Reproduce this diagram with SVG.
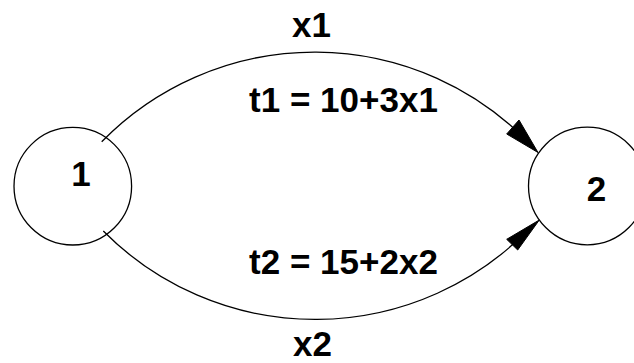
<svg xmlns="http://www.w3.org/2000/svg" width="634" height="363" viewBox="0 0 634 363">
<style>
.node{fill:#fff;stroke:#000;stroke-width:1.3}
.edge{fill:none;stroke:#000;stroke-width:1.3}
.head{fill:#000;stroke:#000;stroke-width:1}
text{font-family:"Liberation Sans",Arial,sans-serif;font-weight:bold;font-size:35px;fill:#000}
</style>
<rect width="634" height="363" fill="#fff"/>
<g id="node1">
<circle class="node" cx="72.8" cy="186.2" r="58.8"/>
<text x="81" y="186" text-anchor="middle" font-size="34">1</text>
</g>
<g id="node2">
<circle class="node" cx="587.3" cy="186" r="58.8"/>
<text x="596.5" y="201" text-anchor="middle" font-size="34">2</text>
</g>
<g id="connectors">
<path class="edge" d="M101.7,141.7 A298,298 0 0,1 530,144"/>
<polygon class="head" points="538,152.5 506.7,134 519,120"/>
<path class="edge" d="M103.3,231 A298,298 0 0,0 530,228"/>
<polygon class="head" points="539.3,220 506.7,239.3 517.7,250"/>
<text x="311.5" y="37" text-anchor="middle">x1</text>
<text x="343.5" y="111.5" text-anchor="middle">t1 = 10+3x1</text>
<text x="343.5" y="274" text-anchor="middle">t2 = 15+2x2</text>
<text x="312.5" y="355.5" text-anchor="middle">x2</text>
</g>
</svg>
